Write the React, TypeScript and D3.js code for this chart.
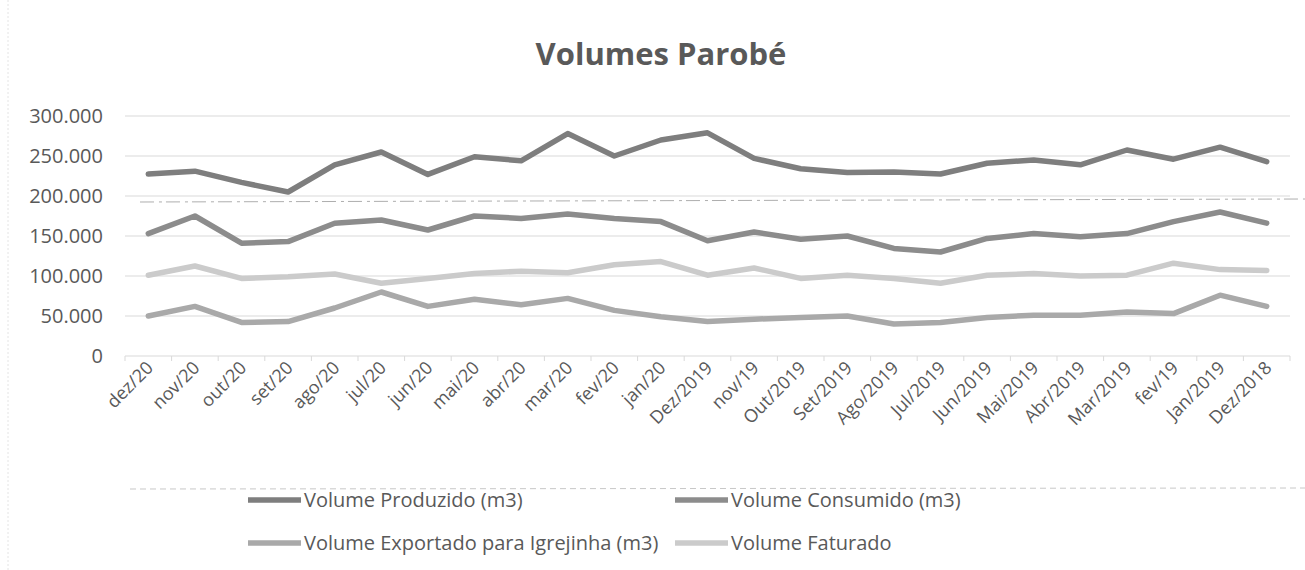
import React, { useEffect, useRef } from 'react';
import * as d3 from 'd3';

// categories as printed on the x axis (most recent first)
const months = [
  'dez/20', 'nov/20', 'out/20', 'set/20', 'ago/20', 'jul/20', 'jun/20', 'mai/20', 'abr/20',
  'mar/20', 'fev/20', 'jan/20', 'Dez/2019', 'nov/19', 'Out/2019', 'Set/2019', 'Ago/2019',
  'Jul/2019', 'Jun/2019', 'Mai/2019', 'Abr/2019', 'Mar/2019', 'fev/19', 'Jan/2019', 'Dez/2018',
];

// values (m3)
const produzido = [
  227500, 231000, 217000, 205000, 239000, 255000, 227000, 249000, 244000, 278000, 250000, 270000,
  279000, 247000, 234000, 229500, 230000, 227500, 241000, 245000, 239000, 257500, 246000, 261000, 243000,
];
const consumido = [
  153000, 175000, 141000, 143000, 166000, 170000, 157500, 175000, 172000, 177500, 172000, 168000,
  144000, 155000, 146000, 150000, 134500, 130000, 147000, 153000, 149000, 153000, 168000, 180000, 166000,
];
const exportado = [
  50000, 62000, 42000, 43000, 60000, 80000, 62000, 71000, 64000, 72000, 57000, 49000,
  43000, 46000, 48000, 50000, 40000, 42000, 48000, 51000, 51000, 55000, 53000, 76000, 62000,
];
const faturado = [
  101000, 112500, 97000, 99000, 102500, 91000, 97000, 103000, 106000, 104000, 114000, 118000,
  101000, 110000, 97000, 101000, 97000, 91000, 101000, 103000, 100000, 101000, 116000, 108000, 107000,
];

const seriesNames = [
  'Volume Produzido (m3)',
  'Volume Consumido (m3)',
  'Volume Exportado para Igrejinha (m3)',
  'Volume Faturado',
];

const yTicks = [0, 50000, 100000, 150000, 200000, 250000, 300000];

export default function App() {
  const ref = useRef<SVGSVGElement | null>(null);

  useEffect(() => {
    const svg = d3.select(ref.current);
    svg.selectAll('*').remove();

    const width = 1305;
    const height = 570;
    const textColor = '#595959';
    const font = "'Open Sans', sans-serif";
    const margin = { top: 116, right: 15, bottom: 214, left: 125 };

    svg.append('rect').attr('width', width).attr('height', height).attr('fill', '#ffffff');

    const x = d3.scaleBand().domain(months).range([margin.left, width - margin.right]);
    const y = d3.scaleLinear().domain([0, 300000]).range([height - margin.bottom, margin.top]);

    const ptBR = d3.formatLocale({ decimal: ',', thousands: '.', grouping: [3], currency: ['R$', ''] });
    const fmt = ptBR.format(',');

    // title
    svg.append('text')
      .attr('x', 661)
      .attr('y', 65)
      .attr('text-anchor', 'middle')
      .attr('font-family', font)
      .attr('font-weight', 'bold')
      .attr('font-size', 31)
      .attr('fill', textColor)
      .text('Volumes Parobé');

    // gridlines
    svg.append('g')
      .selectAll('line')
      .data(yTicks.filter(d => d > 0))
      .join('line')
      .attr('x1', margin.left)
      .attr('x2', width - margin.right)
      .attr('y1', d => y(d))
      .attr('y2', d => y(d))
      .attr('stroke', '#d9d9d9')
      .attr('stroke-width', 1);

    // y labels
    svg.append('g')
      .selectAll('text')
      .data(yTicks)
      .join('text')
      .attr('x', 103)
      .attr('y', d => y(d))
      .attr('dy', '0.35em')
      .attr('text-anchor', 'end')
      .attr('font-family', font)
      .attr('font-size', 20)
      .attr('fill', textColor)
      .text(d => fmt(d));

    // x axis with ticks between categories
    const xAxis = svg.append('g');
    xAxis.append('line')
      .attr('x1', margin.left)
      .attr('x2', width - margin.right)
      .attr('y1', y(0))
      .attr('y2', y(0))
      .attr('stroke', '#d9d9d9');
    xAxis.selectAll('line.tick')
      .data([...months, null])
      .join('line')
      .attr('class', 'tick')
      .attr('x1', (d, i) => margin.left + i * x.step())
      .attr('x2', (d, i) => margin.left + i * x.step())
      .attr('y1', y(0))
      .attr('y2', y(0) + 5)
      .attr('stroke', '#d9d9d9');
    xAxis.selectAll('text')
      .data(months)
      .join('text')
      .attr('text-anchor', 'end')
      .attr('font-family', font)
      .attr('font-size', 18)
      .attr('fill', textColor)
      .attr('transform', d => `translate(${x(d)! + x.bandwidth() / 2 + 6},${y(0) + 13}) rotate(-45)`)
      .text(d => d);

    // scan artefact line across the plot
    svg.append('line')
      .attr('x1', 140)
      .attr('x2', width)
      .attr('y1', 202)
      .attr('y2', 199)
      .attr('stroke', '#7a7a7a')
      .attr('stroke-width', 1)
      .attr('stroke-dasharray', '14 5 3 4')
      .attr('opacity', 0.6);

    const series = [
      { name: seriesNames[0], values: produzido, color: '#7e7e7e' },
      { name: seriesNames[1], values: consumido, color: '#8c8c8c' },
      { name: seriesNames[2], values: exportado, color: '#a9a9a9' },
      { name: seriesNames[3], values: faturado, color: '#cbcbcb' },
    ];

    const line = d3.line<number>()
      .x((d, i) => x(months[i])! + x.bandwidth() / 2)
      .y(d => y(d));

    // draw back to front so the darker lines sit on top
    svg.append('g')
      .selectAll('path')
      .data([...series].reverse())
      .join('path')
      .attr('fill', 'none')
      .attr('stroke', d => d.color)
      .attr('stroke-width', 5.5)
      .attr('stroke-linejoin', 'round')
      .attr('stroke-linecap', 'round')
      .attr('d', d => line(d.values));

    // legend (2 x 2)
    const legendPos = [
      { x: 248, y: 500 },
      { x: 675, y: 500 },
      { x: 248, y: 543 },
      { x: 675, y: 543 },
    ];
    const legend = svg.append('g')
      .selectAll('g')
      .data(series)
      .join('g')
      .attr('transform', (d, i) => `translate(${legendPos[i].x},${legendPos[i].y})`);
    legend.append('line')
      .attr('x1', 0)
      .attr('x2', 53)
      .attr('stroke', d => d.color)
      .attr('stroke-width', 5.5);
    legend.append('text')
      .attr('x', 56)
      .attr('dy', '0.35em')
      .attr('font-family', font)
      .attr('font-size', 20)
      .attr('fill', textColor)
      .text(d => d.name);

    // faint frame edges from the scan
    svg.append('line')
      .attr('x1', 8).attr('x2', 8).attr('y1', 0).attr('y2', height)
      .attr('stroke', '#e4e4e4').attr('stroke-dasharray', '2 2');
    svg.append('line')
      .attr('x1', 130).attr('x2', width).attr('y1', 489).attr('y2', 488)
      .attr('stroke', '#c8c8c8').attr('stroke-dasharray', '6 4');
  }, []);

  return (
    <div style={{ position: 'fixed', left: 0, top: 0 }}>
      <svg ref={ref} width={1305} height={570}></svg>
    </div>
  );
}
